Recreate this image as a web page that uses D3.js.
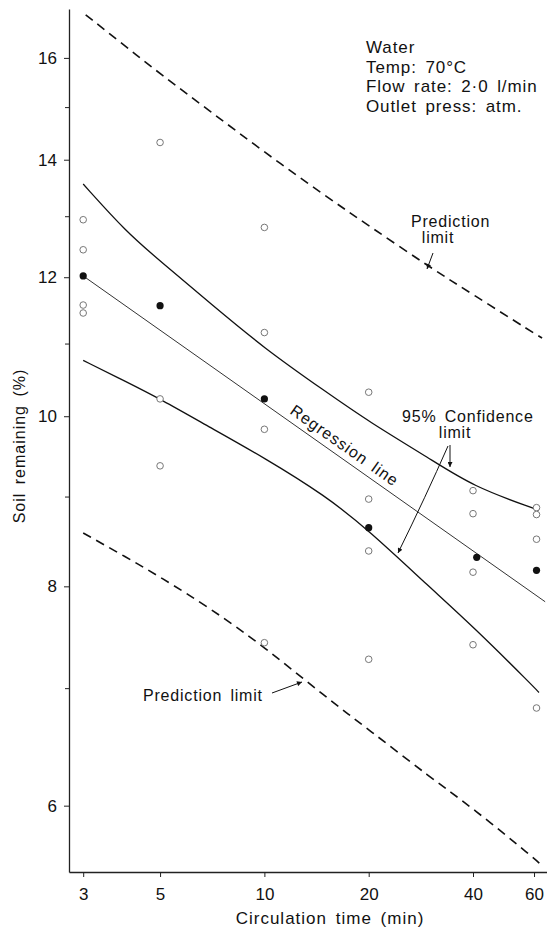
<!DOCTYPE html>
<html>
<head>
    <meta charset="utf-8">
    <title>Soil remaining vs circulation time</title>
    <script src="https://cdnjs.cloudflare.com/ajax/libs/d3/7.8.5/d3.min.js"></script>
    <style>
        body {
            margin: 0;
            background: #fff;
        }
        svg text {
            font-family: "Liberation Sans", Arial, sans-serif;
            fill: #111;
        }
    </style>
</head>
<body>
    <svg id="chart" width="547" height="932"></svg>

    <script>
        // Ticks
        const xTicks = [3, 5, 10, 20, 40, 60];
        const yTicks = [6, 8, 10, 12, 14, 16];
        const yMinorTicks = [7, 9, 11, 13, 15];

        // Individual runs (open) and means (filled)
        const openX = [3, 3, 3, 3, 5, 5, 5, 10, 10, 10, 10, 20, 20, 20, 20, 40, 40, 40, 40, 61, 61, 61, 61];
        const openY = [12.94, 12.44, 11.57, 11.45, 14.32, 10.23, 9.37, 12.81, 11.16, 9.83, 7.43,
                       10.32, 8.97, 8.38, 7.27, 9.07, 8.80, 8.15, 7.41, 8.87, 8.79, 8.51, 6.82];
        const meanX = [3, 5, 10, 20, 41, 61];
        const meanY = [12.02, 11.56, 10.23, 8.64, 8.31, 8.17];

        // Regression line
        const regX = [3, 64.6];
        const regY = [12.02, 7.84];

        // 95% confidence limits
        const confX = [3, 4, 5, 7, 10, 15, 20, 30, 40, 60, 62];
        const upperConf = [13.56, 12.73, 12.26, 11.59, 10.93, 10.33, 9.93, 9.46, 9.12, 8.86, 8.84];
        const lowerConf = [10.76, 10.46, 10.23, 9.85, 9.47, 9.01, 8.61, 7.99, 7.59, 7.01, 6.96];

        // Prediction limits
        const upperPredX = [3.05, 4, 5, 7, 10, 15, 20, 30, 40, 60, 63.3];
        const upperPred = [16.93, 16.23, 15.67, 14.91, 14.14, 13.35, 12.84, 12.16, 11.73, 11.15, 11.08];
        const lowerPredX = [3, 4, 5, 7, 10, 15, 20, 30, 40, 60, 62.4];
        const lowerPred = [8.58, 8.31, 8.10, 7.77, 7.39, 6.92, 6.63, 6.23, 5.98, 5.60, 5.56];

        const svg = d3.select("#chart");

        // Scales (log-log)
        const x = d3.scaleLog().domain([2.73, 65.4]).range([69, 547]);
        const y = d3.scaleLog().domain([5.5, 17.06]).range([872, 9]);

        // Arrow marker
        svg.append("defs").append("marker")
            .attr("id", "arrow")
            .attr("viewBox", "0 0 10 10")
            .attr("refX", 10)
            .attr("refY", 5)
            .attr("markerWidth", 7)
            .attr("markerHeight", 5)
            .attr("markerUnits", "userSpaceOnUse")
            .attr("orient", "auto")
            .append("path")
            .attr("d", "M0,0 L10,5 L0,10 Z")
            .attr("fill", "#111");

        // Axes
        svg.append("g")
            .attr("transform", `translate(${x.range()[0]},0)`)
            .call(d3.axisLeft(y).tickValues(yTicks).tickFormat(d3.format("d"))
                .tickSize(5).tickSizeOuter(0).tickPadding(7));

        svg.append("g")
            .attr("transform", `translate(${x.range()[0]},0)`)
            .call(d3.axisLeft(y).tickValues(yMinorTicks).tickFormat("")
                .tickSize(4).tickSizeOuter(0))
            .select(".domain").remove();

        svg.append("g")
            .attr("transform", `translate(0,${y.range()[0]})`)
            .call(d3.axisBottom(x).tickValues(xTicks).tickFormat(d3.format("d"))
                .tickSize(5).tickSizeOuter(0).tickPadding(11));

        svg.selectAll(".domain").attr("stroke", "#222").attr("stroke-width", 1.3);
        svg.selectAll(".tick line").attr("stroke", "#222").attr("stroke-width", 1);
        svg.selectAll(".tick text")
            .attr("font-family", "'Liberation Sans', Arial, sans-serif")
            .attr("font-size", 17)
            .attr("fill", "#111");

        // Axis titles
        svg.append("text")
            .attr("transform", "translate(25,446) rotate(-90)")
            .attr("text-anchor", "middle")
            .attr("font-size", 16)
            .attr("letter-spacing", 1)
            .attr("word-spacing", 3)
            .text("Soil remaining (%)");

        svg.append("text")
            .attr("x", 330)
            .attr("y", 924)
            .attr("text-anchor", "middle")
            .attr("font-size", 17)
            .attr("letter-spacing", 1)
            .attr("word-spacing", 3)
            .text("Circulation time (min)");

        // Lines (smoothed through the read-off points)
        const line = d3.line()
            .x(d => x(d[0]))
            .y(d => y(d[1]))
            .curve(d3.curveBasis);

        svg.append("path")
            .datum(d3.zip(upperPredX, upperPred))
            .attr("fill", "none")
            .attr("stroke", "#111")
            .attr("stroke-width", 1.6)
            .attr("stroke-dasharray", "9,6")
            .attr("d", line);

        svg.append("path")
            .datum(d3.zip(lowerPredX, lowerPred))
            .attr("fill", "none")
            .attr("stroke", "#111")
            .attr("stroke-width", 1.6)
            .attr("stroke-dasharray", "9,6")
            .attr("d", line);

        svg.append("path")
            .datum(d3.zip(confX, upperConf))
            .attr("fill", "none")
            .attr("stroke", "#111")
            .attr("stroke-width", 1.3)
            .attr("d", line);

        svg.append("path")
            .datum(d3.zip(confX, lowerConf))
            .attr("fill", "none")
            .attr("stroke", "#111")
            .attr("stroke-width", 1.3)
            .attr("d", line);

        svg.append("path")
            .datum(d3.zip(regX, regY))
            .attr("fill", "none")
            .attr("stroke", "#333")
            .attr("stroke-width", 1)
            .attr("d", line);

        // Points
        svg.append("g")
            .selectAll("circle")
            .data(d3.zip(openX, openY))
            .join("circle")
            .attr("cx", d => x(d[0]))
            .attr("cy", d => y(d[1]))
            .attr("r", 3.3)
            .attr("fill", "#fff")
            .attr("stroke", "#777")
            .attr("stroke-width", 1);

        svg.append("g")
            .selectAll("circle")
            .data(d3.zip(meanX, meanY))
            .join("circle")
            .attr("cx", d => x(d[0]))
            .attr("cy", d => y(d[1]))
            .attr("r", 3.6)
            .attr("fill", "#111");

        // Conditions block
        const info = ["Water", "Temp: 70°C", "Flow rate: 2·0 l/min", "Outlet press: atm."];
        svg.append("g")
            .selectAll("text")
            .data(info)
            .join("text")
            .attr("x", 366)
            .attr("y", (d, i) => 53 + i * 19.7)
            .attr("font-size", 17)
            .attr("letter-spacing", 0.9)
            .attr("word-spacing", 3)
            .text(d => d);

        // Regression line label, rotated along the line
        const rx0 = x(regX[0]), ry0 = y(regY[0]);
        const rx1 = x(regX[1]), ry1 = y(regY[1]);
        const angle = Math.atan2(ry1 - ry0, rx1 - rx0) * 180 / Math.PI;
        svg.append("text")
            .attr("transform", `translate(289,413) rotate(${angle})`)
            .attr("font-size", 16)
            .attr("letter-spacing", 1)
            .attr("word-spacing", 3)
            .text("Regression line");

        // Annotations
        const label = (tx, ty, t, anchor) => svg.append("text")
            .attr("x", tx).attr("y", ty)
            .attr("text-anchor", anchor || "start")
            .attr("font-size", 16)
            .attr("letter-spacing", 0.8)
            .attr("word-spacing", 3)
            .text(t);

        label(411, 227, "Prediction");
        label(438, 243, "limit", "middle");
        svg.append("line")
            .attr("x1", 433).attr("y1", 253)
            .attr("x2", 427).attr("y2", 269)
            .attr("stroke", "#111").attr("stroke-width", 1)
            .attr("marker-end", "url(#arrow)");

        label(402, 422, "95% Confidence");
        label(455, 438, "limit", "middle");
        svg.append("line")
            .attr("x1", 450).attr("y1", 445)
            .attr("x2", 450).attr("y2", 467)
            .attr("stroke", "#111").attr("stroke-width", 1)
            .attr("marker-end", "url(#arrow)");
        svg.append("path")
            .attr("d", "M448,446 Q426,496 398,553")
            .attr("fill", "none")
            .attr("stroke", "#111").attr("stroke-width", 1)
            .attr("marker-end", "url(#arrow)");

        label(143, 701, "Prediction limit");
        svg.append("line")
            .attr("x1", 272).attr("y1", 693)
            .attr("x2", 302).attr("y2", 682)
            .attr("stroke", "#111").attr("stroke-width", 1)
            .attr("marker-end", "url(#arrow)");
    </script>
</body>
</html>
